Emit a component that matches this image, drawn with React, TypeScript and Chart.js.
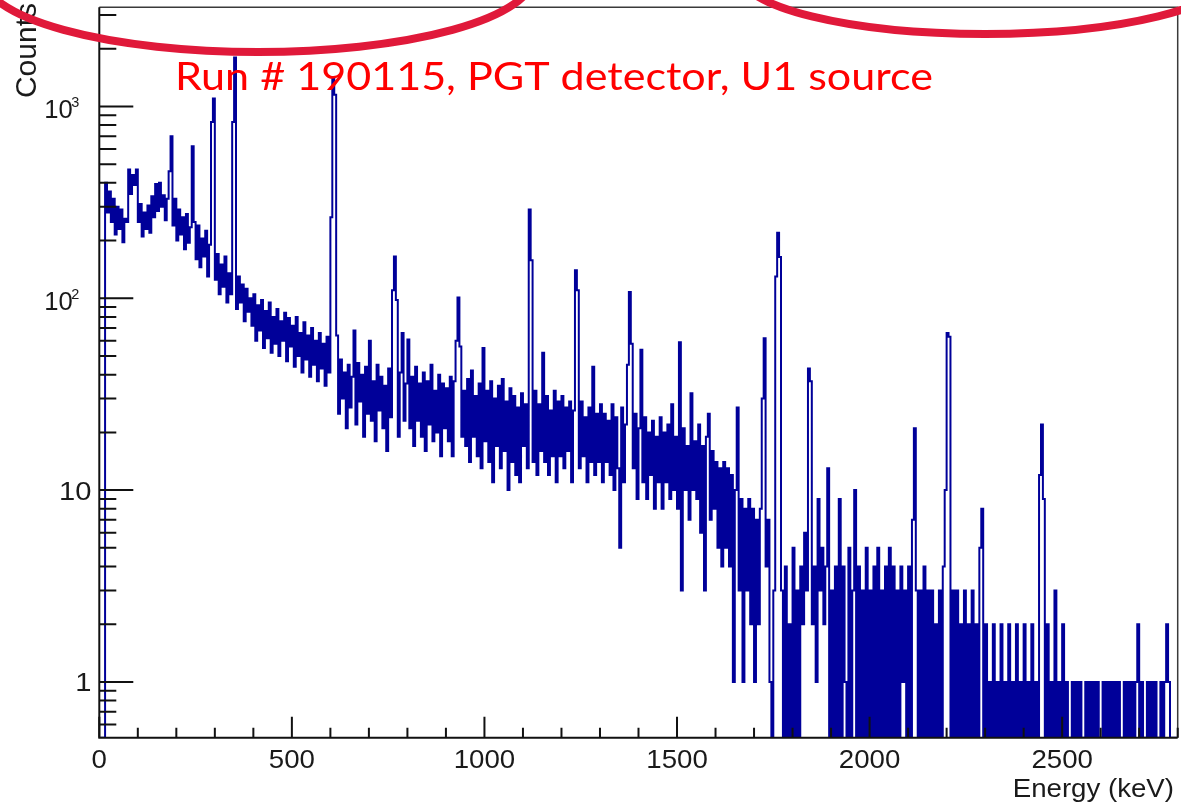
import React, { useEffect, useRef } from "react";
import { Chart, registerables } from "chart.js";

Chart.register(...registerables);

// ---- Data: counts per 5 keV bin ----
const BIN_WIDTH_KEV = 5;

// 0 - 395 keV
const counts0to400 = [
  0, 0, 0, 400, 280, 360, 250, 330, 215, 300,
  230, 290, 196, 260, 250, 470, 350, 440, 390, 470,
  250, 310, 210, 280, 230, 305, 220, 340, 265, 395,
  285, 400, 300, 345, 255, 330, 460, 700, 240, 330,
  200, 290, 215, 265, 180, 275, 195, 235, 620, 250,
  160, 240, 145, 205, 165, 225, 130, 190, 830, 1100,
  125, 170, 105, 150, 115, 165, 95, 135, 105, 830,
  1800, 88, 130, 95, 118, 76, 112, 85, 100, 72,
];

// 400 - 795 keV
const counts400to800 = [
  105, 60, 92, 68, 98, 55, 86, 62, 95, 52,
  80, 58, 88, 50, 76, 60, 84, 47, 79, 56,
  72, 44, 80, 50, 66, 41, 75, 48, 64, 39,
  70, 45, 60, 37, 66, 43, 58, 35, 63, 41,
  265, 1400, 1150, 64, 25, 48, 30, 41, 21, 45,
  27, 39, 68, 22, 46, 29, 40, 19, 44, 25,
  60, 23, 37, 18, 45, 26, 39, 21, 35, 16,
  43, 24, 110, 165, 98, 19, 41, 66, 23, 36,
];

// 800 - 1195 keV
const counts800to1200 = [
  61, 21, 39, 17, 44, 23, 36, 19, 41, 16,
  37, 22, 45, 18, 33, 20, 40, 15, 36, 21,
  34, 18, 39, 15, 37, 60, 101, 56, 19, 33,
  17, 38, 14, 42, 19, 31, 15, 36, 13, 55,
  18, 33, 14, 37, 11, 30, 17, 35, 13, 38,
  16, 29, 10, 34, 14, 31, 12, 27, 11, 32,
  17, 28, 13, 290, 158, 14, 33, 12, 28, 16,
  52, 14, 31, 12, 26, 15, 33, 11, 29, 15,
];

// 1200 - 1595 keV
const counts1200to1600 = [
  31, 13, 27, 16, 29, 11, 26, 140, 110, 13,
  29, 15, 24, 11, 27, 14, 44, 12, 25, 14,
  28, 11, 25, 14, 23, 12, 28, 10, 24, 13,
  5, 27, 11, 22, 45, 108, 58, 13, 25, 9,
  21, 54, 11, 24, 9, 20, 12, 23, 8, 19,
  11, 24, 8, 20, 11, 22, 9, 28, 10, 19,
  8, 59, 3, 21, 10, 17, 7, 32, 10, 18,
  9, 22, 6, 17, 3, 19, 25, 7, 16, 8,
];

// 1600 - 1995 keV
const counts1600to2000 = [
  14, 5, 13, 4, 14, 5, 13, 4, 12, 1,
  10, 27, 3, 9, 1, 8, 3, 9, 2, 8,
  1, 7, 2, 8, 30, 62, 4, 7, 1, 0,
  3, 130, 220, 164, 3, 0, 4, 0, 2, 0,
  5, 0, 3, 0, 4, 2, 6, 3, 43, 37,
  2, 4, 1, 9, 3, 5, 2, 4, 13, 0,
  3, 0, 4, 0, 9, 0, 4, 1, 0, 5,
  0, 3, 10, 0, 4, 0, 3, 0, 5, 0,
];

// 2000 - 2395 keV
const counts2000to2400 = [
  3, 0, 4, 0, 5, 0, 3, 0, 4, 0,
  5, 0, 4, 0, 3, 0, 4, 1, 3, 0,
  4, 0, 7, 21, 3, 0, 3, 0, 4, 0,
  3, 0, 3, 0, 2, 0, 3, 0, 4, 10,
  66, 63, 0, 3, 0, 3, 0, 2, 0, 3,
  0, 2, 0, 3, 0, 2, 0, 5, 8, 0,
  2, 0, 1, 0, 2, 0, 1, 0, 2, 0,
  1, 0, 2, 0, 1, 0, 2, 0, 1, 0,
];

// 2400 - 2795 keV
const counts2400to2800 = [
  2, 0, 1, 0, 2, 0, 1, 0, 12, 22,
  9, 0, 2, 0, 1, 0, 3, 0, 1, 0,
  2, 0, 1, 0, 0, 1, 0, 1, 0, 1,
  0, 0, 1, 0, 1, 0, 1, 0, 1, 0,
  0, 1, 0, 1, 0, 1, 0, 1, 0, 1,
  0, 0, 1, 0, 1, 0, 1, 0, 1, 2,
  0, 1, 0, 0, 1, 0, 1, 0, 1, 0,
  0, 1, 0, 1, 2, 1, 0, 0, 0, 0,
];

// ---- Axes ----
const X_MIN = 0;
const X_MAX = 2800;
const Y_MIN = 0.512;
const Y_MAX = 3290;
const X_MAJOR_TICKS = [0, 500, 1000, 1500, 2000, 2500];
const X_TICK_LABELS = ["0", "500", "1000", "1500", "2000", "2500"];
const X_MINOR_STEP = 100;
const Y_MAJOR_TICKS = [1, 10, 100, 1000];
const Y_TICK_BASES = ["1", "10", "10", "10"];
const Y_TICK_EXPONENTS = ["", "", "2", "3"];
const X_TITLE = "Energy (keV)";
const Y_TITLE = "Counts";
const ANNOTATION_TEXT = "Run # 190115, PGT detector, U1 source";

const HIST_COLOR = "#000099";
const AXIS_FONT = '"Liberation Sans", Arial, Helvetica, sans-serif';

const rootAxesPlugin = {
  id: "rootAxes",
  afterDatasetsDraw(chart: any) {
    const { ctx, chartArea: a, scales } = chart;
    const xs = scales.x;
    const ys = scales.y;
    ctx.save();
    // top / right frame
    ctx.strokeStyle = "#3a3a3a";
    ctx.lineWidth = 1.5;
    ctx.beginPath();
    ctx.moveTo(a.left, a.top);
    ctx.lineTo(a.right, a.top);
    ctx.lineTo(a.right, a.bottom);
    ctx.stroke();
    // left / bottom axes
    ctx.strokeStyle = "#111";
    ctx.lineWidth = 2;
    ctx.beginPath();
    ctx.moveTo(a.left, a.top);
    ctx.lineTo(a.left, a.bottom);
    ctx.lineTo(a.right, a.bottom);
    ctx.stroke();

    // x ticks (inward)
    ctx.beginPath();
    for (let v = X_MIN; v <= X_MAX; v += X_MINOR_STEP) {
      const px = xs.getPixelForValue(v);
      const major = X_MAJOR_TICKS.includes(v);
      ctx.moveTo(px, a.bottom);
      ctx.lineTo(px, a.bottom - (major ? 21 : 10));
    }
    // y ticks (inward, log minor ticks)
    for (let d = -1; d <= 3; d++) {
      for (let m = 1; m <= 9; m++) {
        const v = m * Math.pow(10, d);
        if (v < Y_MIN || v > Y_MAX) continue;
        const py = ys.getPixelForValue(v);
        ctx.moveTo(a.left, py);
        ctx.lineTo(a.left + (m === 1 ? 34 : 17), py);
      }
    }
    ctx.stroke();

    // x tick labels
    ctx.fillStyle = "#1a1a1a";
    ctx.textBaseline = "alphabetic";
    X_MAJOR_TICKS.forEach((v, i) => {
      const px = xs.getPixelForValue(v);
      ctx.save();
      ctx.translate(px, 768.3);
      ctx.scale(1.08, 1);
      ctx.font = `25.6px ${AXIS_FONT}`;
      ctx.textAlign = "center";
      ctx.fillText(X_TICK_LABELS[i], 0, 0);
      ctx.restore();
    });

    // y tick labels
    Y_MAJOR_TICKS.forEach((v, i) => {
      const py = ys.getPixelForValue(v);
      const exp = Y_TICK_EXPONENTS[i];
      if (!exp) {
        ctx.save();
        ctx.translate(91.5, py + 9.4);
        ctx.scale(1.1, 1);
        ctx.font = `26.5px ${AXIS_FONT}`;
        ctx.textAlign = "right";
        ctx.fillText(Y_TICK_BASES[i], 0, 0);
        ctx.restore();
      } else {
        ctx.font = `25.6px ${AXIS_FONT}`;
        ctx.textAlign = "right";
        ctx.fillText(Y_TICK_BASES[i], 72.7, py + 11.6);
        ctx.font = `14.5px ${AXIS_FONT}`;
        ctx.textAlign = "left";
        ctx.fillText(exp, 71.2, py + 0.4);
      }
    });

    // axis titles
    ctx.save();
    ctx.translate(1174, 796.5);
    ctx.scale(1.08, 1);
    ctx.font = `25.6px ${AXIS_FONT}`;
    ctx.textAlign = "right";
    ctx.fillText(X_TITLE, 0, 0);
    ctx.restore();

    ctx.save();
    ctx.translate(36, 3);
    ctx.rotate(-Math.PI / 2);
    ctx.font = `30px ${AXIS_FONT}`;
    ctx.textAlign = "right";
    ctx.fillText(Y_TITLE, 0, 0);
    ctx.restore();

    ctx.restore();
  },
};

const annotationPlugin = {
  id: "annotations",
  afterDraw(chart: any) {
    const { ctx } = chart;
    ctx.save();
    // red text
    ctx.font = '39.5px Lato, "Open Sans", sans-serif';
    ctx.textAlign = "left";
    ctx.textBaseline = "alphabetic";
    ctx.fillStyle = "#ff0000";
    const w = ctx.measureText(ANNOTATION_TEXT).width;
    const target = 758;
    ctx.translate(175, 90);
    ctx.scale(target / w, 1);
    ctx.fillText(ANNOTATION_TEXT, 0, 0);
    ctx.restore();

    // hand-drawn ellipses
    ctx.save();
    ctx.strokeStyle = "#e0193a";
    ctx.lineWidth = 8;
    ctx.beginPath();
    ctx.ellipse(258, -23.5, 275, 75.5, 0, 0, Math.PI * 2);
    ctx.stroke();
    ctx.beginPath();
    ctx.ellipse(985, -26, 245, 60, 0, 0, Math.PI * 2);
    ctx.stroke();
    ctx.restore();
  },
};

export default function App() {
  const canvasRef = useRef<HTMLCanvasElement | null>(null);

  useEffect(() => {
    const canvas = canvasRef.current;
    if (!canvas) return;
    const allCounts = [
      ...counts0to400,
      ...counts400to800,
      ...counts800to1200,
      ...counts1200to1600,
      ...counts1600to2000,
      ...counts2000to2400,
      ...counts2400to2800,
    ];
    // zero-count bins are drawn down to the bottom of the frame (as ROOT does)
    const points = allCounts.map((c, i) => ({
      x: (i + 0.5) * BIN_WIDTH_KEV,
      y: Math.max(c, Y_MIN),
    }));

    const chart = new Chart(canvas, {
      type: "line",
      data: {
        datasets: [
          {
            data: points,
            borderColor: HIST_COLOR,
            borderWidth: 2,
            pointRadius: 0,
            stepped: "middle",
            fill: false,
            tension: 0,
            borderJoinStyle: "miter",
          },
        ],
      },
      options: {
        responsive: false,
        animation: false,
        events: [],
        layout: { padding: { left: 99.3, right: 3.3, top: 7.3, bottom: 66.3 } },
        plugins: {
          legend: { display: false },
          tooltip: { enabled: false },
          title: { display: false },
        },
        scales: {
          x: { type: "linear", min: X_MIN, max: X_MAX, display: false },
          y: { type: "logarithmic", min: Y_MIN, max: Y_MAX, display: false },
        },
      },
      plugins: [rootAxesPlugin, annotationPlugin],
    } as any);

    return () => chart.destroy();
  }, []);

  return (
    <div
      style={{
        position: "fixed",
        left: 0,
        top: 0,
        width: 1181,
        height: 804,
        background: "#ffffff",
      }}
    >
      <canvas ref={canvasRef} width={1181} height={804} style={{ display: "block" }} />
    </div>
  );
}
